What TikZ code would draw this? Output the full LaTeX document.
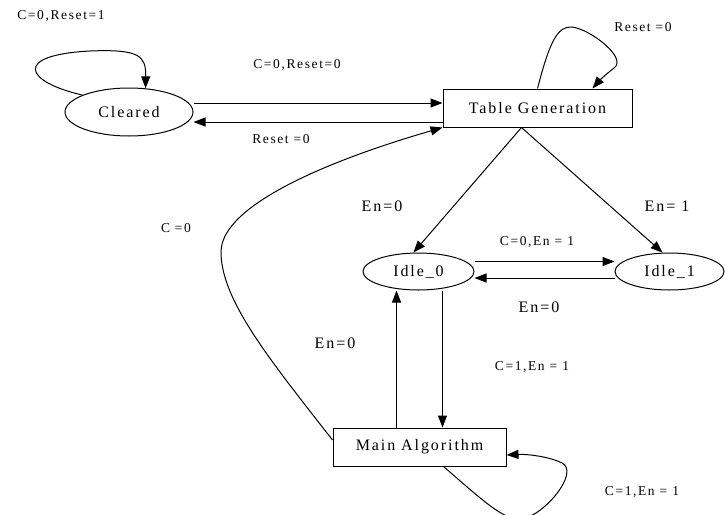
\documentclass[tikz,border=0pt]{standalone}
\usepackage{fontspec}
\setmainfont{Liberation Serif}[LetterSpace=12]
\usetikzlibrary{shapes.geometric,arrows.meta,calc}

\begin{document}
\begin{tikzpicture}[x=1pt,y=-1pt,
		state/.style={draw,ellipse,line width=1pt,inner sep=0pt,font=\fontsize{16}{18}\selectfont},
		block/.style={draw,rectangle,line width=1pt,inner sep=0pt,font=\fontsize{16}{18}\selectfont},
		cond/.style={inner sep=0pt,font=\fontsize{13.5}{15}\selectfont},
		bigcond/.style={inner sep=0pt,font=\fontsize{16}{18}\selectfont},
		trans/.style={line width=1pt,-{Triangle[length=12pt,width=9pt]}}]
		\useasboundingbox (0,0) rectangle (725,514);% same frame as the page

		% states
		\node[state,minimum width=128pt,minimum height=48pt] (clr) at (129,112) {Cleared};
		\node[block,minimum width=189pt,minimum height=38pt] (tab) at (537.5,108) {Table Generation};
		\node[state,minimum width=111pt,minimum height=37pt] (idle0) at (418.5,271.5) {Idle\_0};
		\node[state,minimum width=109pt,minimum height=37pt] (idle1) at (669.5,271.5) {Idle\_1};
		\node[block,minimum width=173pt,minimum height=38pt] (alg) at (419.5,447) {Main Algorithm};

		% conditions
		\node[cond] (cClrLoop) at (61,16) {C=0,Reset=1};
		\node[cond] (cClrTab) at (297,65) {C=0,Reset=0};
		\node[cond] (cTabClr) at (281,139) {Reset =0};
		\node[cond] (cTabLoop) at (643,27) {Reset =0};
		\node[bigcond] (cTabIdle0) at (382,206) {En=0};
		\node[bigcond] (cTabIdle1) at (667,206) {En= 1};
		\node[cond] (cIdleOne) at (537,242) {C=0,En = 1};
		\node[bigcond] (cIdleZero) at (539,307) {En=0};
		\node[bigcond] (cAlgIdle) at (335,343) {En=0};
		\node[cond] (cIdleAlg) at (532,367) {C=1,En = 1};
		\node[cond] (cAlgLoop) at (642,492) {C=1,En = 1};
		\node[cond] (cAlgTab) at (176,228) {C =0};

		\coordinate (apex) at ([xshift=-16pt]tab.south);

		% transitions
		\draw[trans] (clr.160) .. controls (25,82) and (12,55) .. (90,51)
			.. controls (140,49) and (146,56) .. (clr.55);
		\draw[trans] ([yshift=9pt]clr.east) -- ([yshift=9pt]clr.east -| tab.west);
		\draw[trans] ([yshift=-10pt]clr.east -| tab.west) -- ([yshift=-10pt]clr.east);
		\draw[trans] (tab.north) .. controls (550,40) and (558,26) .. (572,27)
			.. controls (590,29) and (628,58) .. (614,68)
			.. controls (605,75) and (598,82) .. ([xshift=55pt]tab.north);
		\draw[trans] (apex) -- (idle0.105);
		\draw[trans] (apex) -- (idle1.110);
		\draw[trans] ([yshift=10pt]idle0.east) -- ([yshift=10pt]idle0.east -| idle1.west);
		\draw[trans] ([yshift=-6.5pt]idle1.west) -- ([yshift=-6.5pt]idle1.west -| idle0.east);
		\draw[trans] ([xshift=24pt]idle0.south) -- ([xshift=24pt]idle0.south |- alg.north);
		\draw[trans] ([xshift=-23pt]alg.north) -- ([xshift=-23pt]alg.north |- idle0.south);
		\draw[trans] ([xshift=24pt]alg.south) .. controls (480,498) and (505,522) .. (522,519)
			.. controls (545,515) and (580,472) .. (562,463)
			.. controls (548,456) and (525,454) .. ([yshift=-8pt]alg.east);
		\draw[trans] ([yshift=7pt]alg.west) .. controls (270,360) and (221,300) .. (221,252)
			.. controls (221,205) and (330,160) .. (tab.south west);
	\end{tikzpicture}
\end{document}
